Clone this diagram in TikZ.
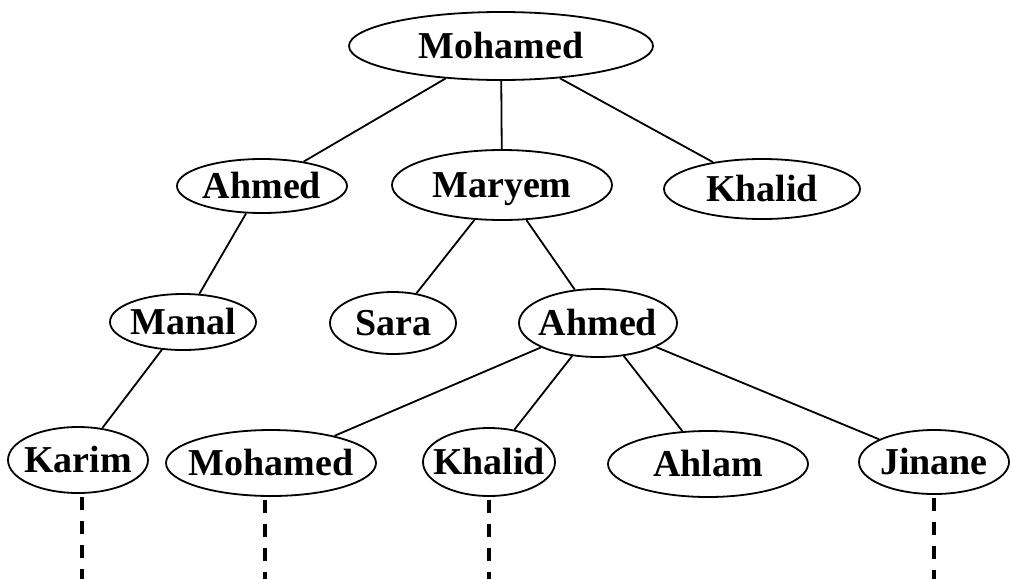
\documentclass[tikz,border=0pt]{standalone}
\usepackage{fontspec}
\setmainfont{Liberation Serif}
\usetikzlibrary{shapes.geometric}

\tikzset{
  person/.style={ellipse, draw, line width=1.8pt, inner xsep=-12pt, inner ysep=0pt,
    font=\fontsize{38}{38}\selectfont\bfseries, text height=25pt, text depth=0pt},
  link/.style={line width=1.8pt},
  lineage/.style={line width=3.5pt, dash pattern=on 13pt off 11pt},
}

\begin{document}
\begin{tikzpicture}[x=1pt,y=-1pt,line join=round]
      \useasboundingbox (0,0) rectangle (1011,579);

      % Generation 1
      \node[person, minimum width=304pt, minimum height=68pt] (mohamed) at (501,46) {Mohamed};

      % Generation 2
      \node[person, minimum width=170pt, minimum height=54pt] (ahmed) at (262,186) {Ahmed};
      \node[person, minimum width=220pt, minimum height=70pt] (maryem) at (502,185) {Maryem};
      \node[person, minimum width=196pt, minimum height=60pt] (khalid) at (762,189) {Khalid};

      % Generation 3
      \node[person, minimum width=146pt, minimum height=56pt] (manal) at (183,322) {Manal};
      \node[person, minimum width=126pt, minimum height=62pt] (sara) at (393,323) {Sara};
      \node[person, minimum width=158pt, minimum height=68pt] (ahmedb) at (598,323) {Ahmed};

      % Generation 4
      \node[person, minimum width=140pt, minimum height=66pt] (karim) at (78,460) {Karim};
      \node[person, minimum width=210pt, minimum height=66pt] (mohamedb) at (271,463) {Mohamed};
      \node[person, minimum width=132pt, minimum height=68pt] (khalidb) at (489,462) {Khalid};
      \node[person, minimum width=200pt, minimum height=66pt] (ahlam) at (708,464) {Ahlam};
      \node[person, minimum width=150pt, minimum height=64pt] (jinane) at (934,462) {Jinane};

      % Links
      \draw[link] (mohamed) -- (ahmed);
      \draw[link] (mohamed) -- (maryem);
      \draw[link] (mohamed) -- (khalid);
      \draw[link] (ahmed) -- (manal);
      \draw[link] (maryem) -- (sara);
      \draw[link] (maryem) -- (ahmedb);
      \draw[link] (manal) -- (karim);
      \draw[link] (ahmedb) -- (mohamedb);
      \draw[link] (ahmedb) -- (khalidb);
      \draw[link] (ahmedb) -- (ahlam);
      \draw[link] (ahmedb) -- (jinane);

      % Dashed continuations
      \coordinate (karimEnd) at (82,579);
      \coordinate (mohamedbEnd) at (265,579);
      \coordinate (khalidbEnd) at (489,579);
      \coordinate (jinaneEnd) at (934,579);
      \draw[lineage] ([yshift=-3pt]karim.south -| karimEnd) -- (karimEnd);
      \draw[lineage] ([yshift=-3pt]mohamedb.south -| mohamedbEnd) -- (mohamedbEnd);
      \draw[lineage] ([yshift=-3pt]khalidb.south -| khalidbEnd) -- (khalidbEnd);
      \draw[lineage] ([yshift=-3pt]jinane.south -| jinaneEnd) -- (jinaneEnd);
\end{tikzpicture}
\end{document}
